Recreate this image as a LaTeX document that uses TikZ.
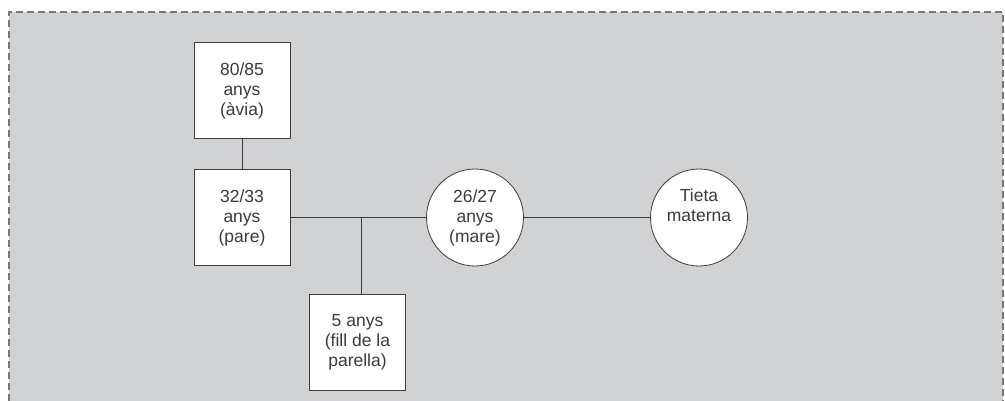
\documentclass[tikz,border=0pt]{standalone}
\usepackage{fontspec}
\setsansfont{Liberation Sans}
\usepackage{tikz}
\usetikzlibrary{positioning}
\definecolor{panelgray}{HTML}{D1D2D4}
\definecolor{dashgray}{HTML}{77787B}
\definecolor{inkgray}{HTML}{3C3B3D}
\tikzstyle{every picture}+=[font=\sffamily]

\begin{document}
\begin{tikzpicture}
	[x=1pt, y=-1pt, font=\sffamily\fontsize{17.5}{20}\selectfont, inner sep=0pt,
	person/.style	= {rectangle, draw=inkgray, fill=white, line width=1pt, minimum size=96pt, align=center, text=inkgray},
	woman/.style	= {circle, draw=inkgray, fill=white, line width=0.8pt, minimum size=97pt, align=center, text=inkgray},
	tie/.style	= {draw=inkgray, line width=1pt},
	frame/.style	= {draw=dashgray, line width=2pt, dash pattern=on 7pt off 4pt}]
	
	\useasboundingbox (0, 0) rectangle (1005, 401);
	\fill [panelgray] (9, 12) rectangle (1003, 401);
	\draw [frame] (9, 401) -- (9, 12) -- (1003, 12) -- (1003, 401);
	
	\node at (242, 91)	[person]	(avia)	{80/85\\anys\\(àvia)};
	\node at (242, 217.5)	[person]	(pare)	{32/33\\anys\\(pare)};
	\node at (357.5, 342.5)	[person]	(fill)	{5 anys\\(fill de la\\parella)};
	
	\node at (475, 217.5)	[woman]		(mare)	{26/27\\anys\\(mare)};
	\node at (699, 217.5)	[woman]		(tieta)	{Tieta\\materna\\[4pt]};
	
	\coordinate (parella) at (361, 217.5);
	
	\draw [tie] (avia.south) -- (pare.north);
	\draw [tie] (pare.east) -- (mare.west);
	\draw [tie] (parella) -- (parella |- fill.north);
	\draw [tie] (mare.east) -- (tieta.west);
\end{tikzpicture}
\end{document}
